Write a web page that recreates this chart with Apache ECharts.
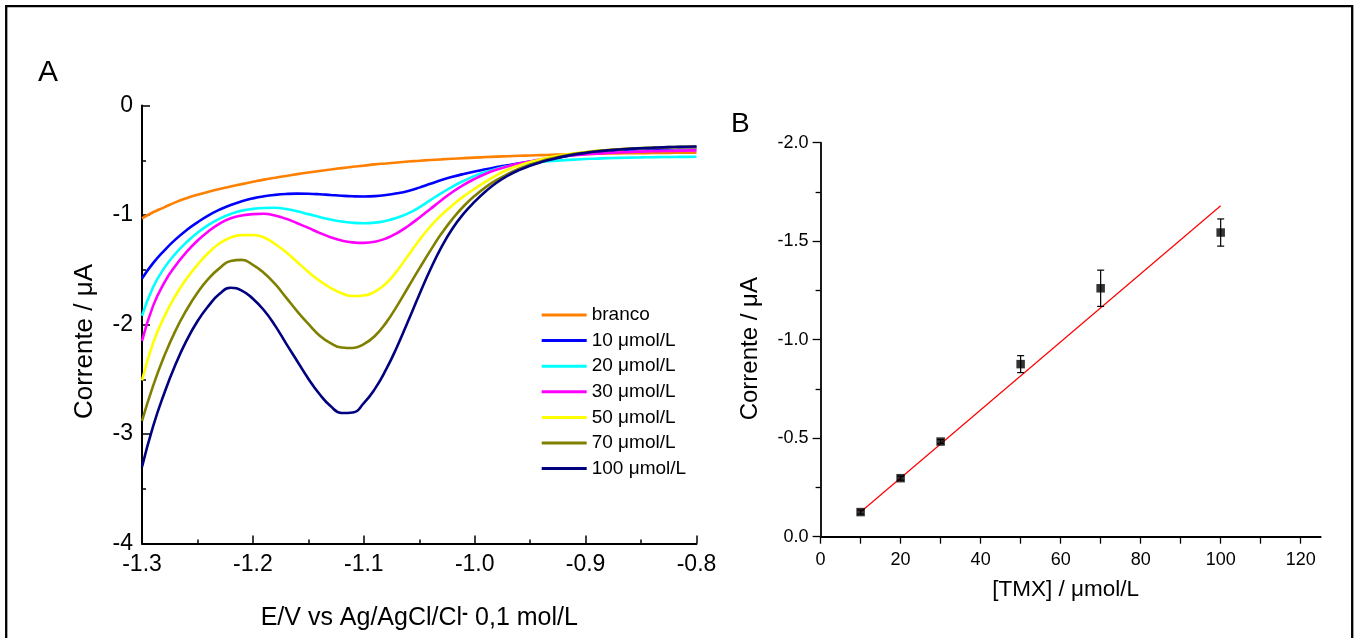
<!DOCTYPE html>
<html>
<head>
<meta charset="utf-8">
<script src="https://cdn.jsdelivr.net/npm/echarts@6/dist/echarts.min.js"></script>
<style>
html,body{margin:0;padding:0;background:#fff;}
#c{width:1359px;height:638px;}
</style>
</head>
<body>
<div id="c"></div>
<script>
// ---------- Panel A data (potential / V, current / uA) ----------
const potential = [-1.30,-1.29,-1.28,-1.27,-1.26,-1.25,-1.24,-1.23,-1.22,-1.21,-1.20,-1.19,-1.18,-1.17,-1.16,-1.15,-1.14,-1.13,-1.12,-1.11,-1.10,-1.09,-1.08,-1.07,-1.06,-1.05,-1.04,-1.03,-1.02,-1.01,-1.00,-0.99,-0.98,-0.97,-0.96,-0.95,-0.94,-0.93,-0.92,-0.91,-0.90,-0.89,-0.88,-0.87,-0.86,-0.85,-0.84,-0.83,-0.82,-0.81,-0.80];
const branco = [-1.03,-0.975,-0.93,-0.885,-0.847,-0.815,-0.788,-0.763,-0.74,-0.718,-0.697,-0.677,-0.66,-0.643,-0.627,-0.612,-0.598,-0.585,-0.572,-0.56,-0.549,-0.538,-0.529,-0.52,-0.512,-0.505,-0.498,-0.492,-0.486,-0.481,-0.476,-0.471,-0.467,-0.463,-0.459,-0.456,-0.453,-0.45,-0.447,-0.445,-0.443,-0.441,-0.439,-0.437,-0.436,-0.435,-0.434,-0.433,-0.432,-0.431,-0.43];
const c10 = [-1.58,-1.44,-1.325,-1.225,-1.14,-1.067,-1.003,-0.951,-0.908,-0.874,-0.848,-0.829,-0.816,-0.808,-0.805,-0.806,-0.81,-0.817,-0.824,-0.829,-0.831,-0.828,-0.818,-0.802,-0.78,-0.75,-0.715,-0.681,-0.651,-0.625,-0.602,-0.582,-0.563,-0.545,-0.528,-0.512,-0.497,-0.482,-0.467,-0.452,-0.438,-0.426,-0.416,-0.408,-0.402,-0.398,-0.395,-0.393,-0.391,-0.39,-0.389];
const c20 = [-1.92,-1.66,-1.485,-1.355,-1.25,-1.162,-1.09,-1.033,-0.99,-0.96,-0.944,-0.936,-0.934,-0.945,-0.966,-0.992,-1.018,-1.042,-1.06,-1.071,-1.075,-1.07,-1.053,-1.025,-0.985,-0.93,-0.865,-0.80,-0.74,-0.688,-0.643,-0.606,-0.577,-0.555,-0.538,-0.525,-0.515,-0.507,-0.50,-0.494,-0.489,-0.485,-0.481,-0.478,-0.476,-0.474,-0.472,-0.471,-0.47,-0.469,-0.468];
const c30 = [-2.15,-1.83,-1.62,-1.465,-1.34,-1.235,-1.148,-1.078,-1.03,-1.005,-0.992,-0.989,-1.005,-1.035,-1.075,-1.118,-1.163,-1.203,-1.233,-1.25,-1.255,-1.245,-1.215,-1.165,-1.10,-1.025,-0.945,-0.865,-0.79,-0.725,-0.67,-0.623,-0.585,-0.555,-0.53,-0.51,-0.492,-0.477,-0.465,-0.455,-0.447,-0.44,-0.434,-0.429,-0.425,-0.421,-0.418,-0.416,-0.414,-0.412,-0.41];
const c50 = [-2.51,-2.17,-1.93,-1.74,-1.585,-1.455,-1.345,-1.258,-1.205,-1.184,-1.183,-1.205,-1.265,-1.34,-1.43,-1.52,-1.60,-1.665,-1.715,-1.74,-1.735,-1.70,-1.625,-1.51,-1.37,-1.23,-1.105,-1.00,-0.91,-0.83,-0.76,-0.695,-0.635,-0.585,-0.547,-0.516,-0.491,-0.469,-0.451,-0.436,-0.424,-0.414,-0.406,-0.399,-0.394,-0.39,-0.387,-0.385,-0.383,-0.381,-0.38];
const c70 = [-2.88,-2.56,-2.29,-2.06,-1.87,-1.71,-1.58,-1.485,-1.42,-1.41,-1.455,-1.53,-1.63,-1.755,-1.88,-1.995,-2.10,-2.17,-2.21,-2.215,-2.18,-2.105,-1.985,-1.83,-1.66,-1.49,-1.325,-1.17,-1.035,-0.92,-0.825,-0.745,-0.68,-0.625,-0.578,-0.54,-0.508,-0.482,-0.46,-0.442,-0.428,-0.416,-0.407,-0.399,-0.393,-0.388,-0.385,-0.382,-0.379,-0.377,-0.375];
const c100 = [-3.30,-2.93,-2.63,-2.37,-2.15,-1.97,-1.83,-1.72,-1.664,-1.69,-1.765,-1.87,-2.01,-2.175,-2.335,-2.495,-2.635,-2.745,-2.808,-2.803,-2.718,-2.588,-2.413,-2.203,-1.968,-1.728,-1.498,-1.293,-1.123,-0.988,-0.878,-0.783,-0.703,-0.64,-0.59,-0.55,-0.517,-0.49,-0.467,-0.448,-0.433,-0.42,-0.41,-0.402,-0.395,-0.39,-0.386,-0.382,-0.379,-0.377,-0.375];
const seriesNames = ['branco','10 μmol/L','20 μmol/L','30 μmol/L','50 μmol/L','70 μmol/L','100 μmol/L'];
const seriesColors = ['#FF8000','#0000FF','#00FFFF','#FF00FF','#FFFF00','#808000','#000080'];
const seriesValues = [branco,c10,c20,c30,c50,c70,c100];

// ---------- Panel B data ----------
const conc = [10,20,30,50,70,100];
const peakCurrent = [-0.125,-0.297,-0.483,-0.876,-1.261,-1.544];
const peakErr = [0.01,0.01,0.01,0.043,0.092,0.069];
const fitX = [10,100];
const fitY = [-0.125,-1.68];
const xLabelsB = [0,20,40,60,80,100,120];
const xTicksB = [0,10,20,30,40,50,60,70,80,90,100,110,120];

const FONT = "'Liberation Sans', Arial, sans-serif";
const chart = echarts.init(document.getElementById('c'));

const lineSeries = seriesValues.map((vals, i) => ({
  name: seriesNames[i],
  type: 'line',
  xAxisIndex: 0, yAxisIndex: 0,
  data: potential.map((x, j) => [x, vals[j]]),
  showSymbol: false, symbol: 'none',
  smooth: 0.5,
  lineStyle: {color: seriesColors[i], width: 2.6},
  itemStyle: {color: seriesColors[i]},
  z: 10 + i,
  silent: true
}));

const option = {
  animation: false,
  backgroundColor: '#fff',
  textStyle: {fontFamily: FONT},
  grid: [
    {left: 142, top: 105.5, width: 554.5, height: 438},
    {left: 820.6, top: 142.7, width: 500.1, height: 394}
  ],
  legend: {
    data: seriesNames,
    orient: 'vertical',
    left: 541.7, top: 305.5, padding: 0,
    icon: 'rect', itemWidth: 45, itemHeight: 3,
    itemGap: 6.6,
    textStyle: {fontFamily: FONT, fontSize: 19, color: '#000', lineHeight: 19},
    selectedMode: false
  },
  xAxis: [
    {
      type: 'value', gridIndex: 0, min: -1.3, max: -0.8, interval: 0.1,
      axisLine: {show: true, onZero: false, lineStyle: {color: '#000', width: 2}},
      axisTick: {show: true, inside: true, length: 8, lineStyle: {color: '#000', width: 1.5}},
      minorTick: {show: true, splitNumber: 2, length: 4, lineStyle: {color: '#000', width: 1.5}},
      axisLabel: {color: '#000', fontSize: 23, fontFamily: FONT, margin: 10, formatter: v => v.toFixed(1)},
      splitLine: {show: false},
      name: '{a|E/V vs Ag/AgCl/Cl}{s|-}{a| 0,1 mol/L}',
      nameLocation: 'middle', nameGap: 62,
      nameTextStyle: {rich: {
        a: {fontSize: 25, fontFamily: FONT, color: '#000'},
        s: {fontSize: 18, fontFamily: FONT, color: '#000', verticalAlign: 'top', lineHeight: 6, fontWeight: 'bold'}
      }}
    },
    {
      type: 'value', gridIndex: 1, min: 0, max: 125, interval: 20,
      axisLine: {show: true, onZero: false, lineStyle: {color: '#000', width: 1.8}},
      axisTick: {show: true, inside: false, length: 7, customValues: xTicksB, lineStyle: {color: '#000', width: 1.3}},
      axisLabel: {color: '#000', fontSize: 18, fontFamily: FONT, margin: 14, customValues: xLabelsB},
      splitLine: {show: false},
      name: '[TMX] / μmol/L', nameLocation: 'middle', nameGap: 42,
      nameTextStyle: {fontSize: 22.5, fontFamily: FONT, color: '#000', padding: [0, 10, 0, 0]}
    }
  ],
  yAxis: [
    {
      type: 'value', gridIndex: 0, min: -4, max: 0, interval: 1,
      axisLine: {show: true, onZero: false, lineStyle: {color: '#000', width: 2}},
      axisTick: {show: true, inside: true, length: 8, lineStyle: {color: '#000', width: 1.5}},
      minorTick: {show: true, splitNumber: 2, length: 4, lineStyle: {color: '#000', width: 1.5}},
      axisLabel: {color: '#000', fontSize: 23, fontFamily: FONT, margin: 9},
      splitLine: {show: false},
      name: 'Corrente / μA', nameLocation: 'middle', nameGap: 44,
      nameTextStyle: {fontSize: 26, fontFamily: FONT, color: '#000', padding: [0, 34, 0, 0]}
    },
    {
      type: 'value', gridIndex: 1, min: -2, max: 0, interval: 0.5, inverse: true,
      axisLine: {show: true, onZero: false, lineStyle: {color: '#000', width: 1.8}},
      axisTick: {show: true, inside: false, length: 8, lineStyle: {color: '#000', width: 1.3}},
      minorTick: {show: true, splitNumber: 2, length: 5, lineStyle: {color: '#000', width: 1.3}},
      axisLabel: {color: '#000', fontSize: 18, fontFamily: FONT, margin: 12, formatter: v => v.toFixed(1)},
      splitLine: {show: false},
      name: 'Corrente / μA', nameLocation: 'middle', nameGap: 58,
      nameTextStyle: {fontSize: 24, fontFamily: FONT, color: '#000', padding: [0, 18, 0, 0]}
    }
  ],
  series: lineSeries.concat([
    {
      type: 'line', xAxisIndex: 1, yAxisIndex: 1,
      data: fitX.map((x, i) => [x, fitY[i]]),
      symbol: 'none', lineStyle: {color: '#FF0000', width: 1.2}, z: 5, silent: true
    },
    {
      type: 'custom', xAxisIndex: 1, yAxisIndex: 1,
      data: conc.map((x, i) => [x, peakCurrent[i], peakErr[i]]),
      renderItem: function (params, api) {
        const x = api.value(0), y = api.value(1), e = api.value(2);
        const top = api.coord([x, y - e]);
        const bot = api.coord([x, y + e]);
        const hw = 3.5;
        const st = {stroke: '#000', lineWidth: 1.2};
        return {type: 'group', children: [
          {type: 'line', shape: {x1: top[0], y1: top[1], x2: bot[0], y2: bot[1]}, style: st},
          {type: 'line', shape: {x1: top[0]-hw, y1: top[1], x2: top[0]+hw, y2: top[1]}, style: st},
          {type: 'line', shape: {x1: bot[0]-hw, y1: bot[1], x2: bot[0]+hw, y2: bot[1]}, style: st}
        ]};
      },
      z: 6, silent: true
    },
    {
      type: 'scatter', xAxisIndex: 1, yAxisIndex: 1,
      data: conc.map((x, i) => [x, peakCurrent[i]]),
      symbol: 'rect', symbolSize: 8.5,
      itemStyle: {color: '#000'}, z: 7, silent: true
    }
  ]),
  graphic: [
    {type: 'rect', shape: {x: 6.2, y: 6.2, width: 1346, height: 700}, style: {fill: 'none', stroke: '#000', lineWidth: 2.3}, silent: true},
    {type: 'text', left: 38, top: 58, style: {text: 'A', font: "30px 'Liberation Sans', Arial, sans-serif", fill: '#000'}},
    {type: 'text', left: 731, top: 110, style: {text: 'B', font: "28px 'Liberation Sans', Arial, sans-serif", fill: '#000'}}
  ]
};
chart.setOption(option);
</script>
</body>
</html>
